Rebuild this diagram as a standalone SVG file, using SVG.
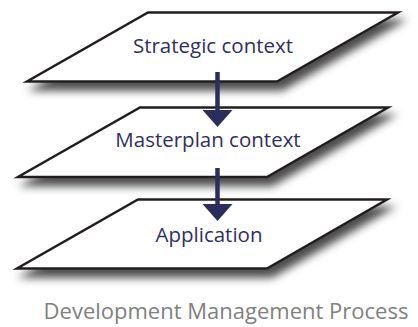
<svg xmlns="http://www.w3.org/2000/svg" width="418" height="327" viewBox="0 0 418 327">
  <style>
    .plane { fill: #ffffff; stroke: #231f20; stroke-width: 2.5; stroke-linejoin: miter; filter: url(#shadow); }
    .label { font-family: "Open Sans", "Liberation Sans", sans-serif; font-size: 20.5px; fill: #2e3063; text-anchor: middle; }
    .caption { font-family: "Open Sans", "Liberation Sans", sans-serif; font-size: 22px; fill: #808080; text-anchor: middle; }
    .conn { stroke: #2b2d5c; stroke-width: 4.5; fill: none; }
    .head { fill: #2b2d5c; }
  </style>
  <defs>
    <filter id="shadow" x="-10%" y="-20%" width="130%" height="160%">
      <feDropShadow dx="5" dy="8" stdDeviation="4" flood-color="#000000" flood-opacity="0.7"/>
    </filter>
  </defs>
  <rect width="418" height="327" fill="#ffffff"/>
  <g id="node-strategic">
    <polygon class="plane" points="148,12.5 398,12.5 277,81.5 27,81.5"/>
    <text class="label" x="213" y="53">Strategic context</text>
  </g>
  <g id="node-masterplan">
    <polygon class="plane" points="140,107.5 388,107.5 267,177 18,177"/>
    <text class="label" x="208" y="147">Masterplan context</text>
  </g>
  <g id="node-application">
    <polygon class="plane" points="138,199.5 387,199.5 267,268.5 17,268.5"/>
    <text class="label" x="209" y="242">Application</text>
  </g>
  <g id="connectors">
    <line class="conn" x1="217.5" y1="72" x2="217.5" y2="111"/>
    <polygon class="head" points="202.5,110 232.5,110 217.5,127"/>
    <line class="conn" x1="217.5" y1="168" x2="217.5" y2="205"/>
    <polygon class="head" points="202.5,204 232.5,204 217.5,221"/>
  </g>
  <text class="caption" x="226" y="319">Development Management Process</text>
</svg>
